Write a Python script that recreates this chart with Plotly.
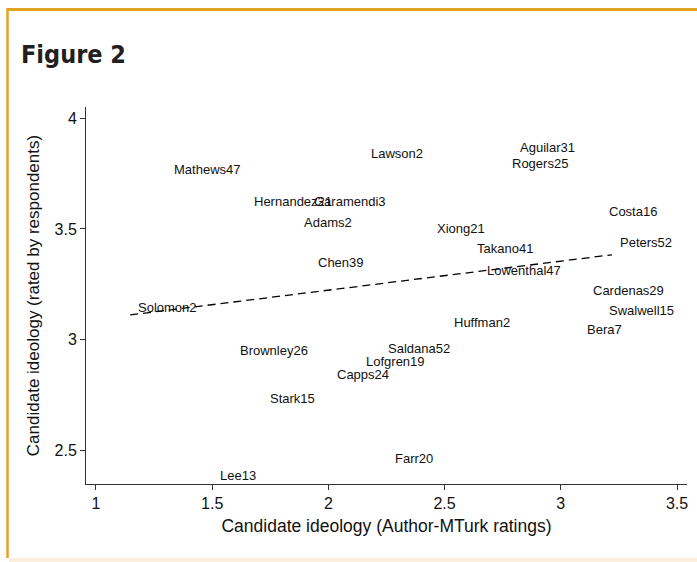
import numpy as np
import plotly.graph_objects as go

names = ["Mathews47", "Lawson2", "Aguilar31", "Rogers25", "Hernandez21", "Garamendi3",
         "Adams2", "Chen39", "Solomon2", "Costa16", "Xiong21", "Takano41", "Peters52",
         "Lowenthal47", "Cardenas29", "Swalwell15", "Huffman2", "Bera7", "Saldana52",
         "Brownley26", "Lofgren19", "Capps24", "Stark15", "Farr20", "Lee13"]
author_mturk = [1.302, 2.147, 2.789, 2.754, 1.647, 1.905,
                1.862, 1.922, 1.147, 3.172, 2.435, 2.603, 3.220,
                2.647, 3.103, 3.172, 2.504, 3.078, 2.220,
                1.586, 2.129, 2.004, 1.716, 2.254, 1.500]
respondents = [3.770, 3.842, 3.869, 3.797, 3.626, 3.626,
               3.527, 3.347, 3.144, 3.577, 3.500, 3.410, 3.437,
               3.311, 3.221, 3.131, 3.077, 3.045, 2.959,
               2.950, 2.901, 2.842, 2.734, 2.464, 2.387]
x_ticks = [1, 1.5, 2, 2.5, 3, 3.5]
y_ticks = [2.5, 3, 3.5, 4]

xs = np.array(author_mturk)
ys = np.array(respondents)
slope, intercept = np.polyfit(xs, ys, 1)
fit_x = np.array([xs.min(), xs.max()])
fit_y = intercept + slope * fit_x

fig = go.Figure()
fig.add_trace(go.Scatter(x=author_mturk, y=respondents, mode="markers",
                         marker=dict(size=6, opacity=0), hoverinfo="text",
                         text=names, showlegend=False))
fig.add_trace(go.Scatter(x=fit_x, y=fit_y, mode="lines",
                         line=dict(color="black", width=1.3, dash="8px,5px"),
                         showlegend=False, hoverinfo="skip"))

for n, xv, yv in zip(names, author_mturk, respondents):
    fig.add_annotation(x=xv, y=yv, text=n, showarrow=False, xanchor="left",
                       yanchor="middle", xshift=6,
                       font=dict(family="Liberation Sans, Arial, sans-serif", size=13, color="#111"))

# plot-area pixel geometry helpers
L, R, T, B = 86, 687, 107, 484
W, H = 697, 562
def px(x):
    return (x - L) / (R - L)
def py(y):
    return (B - y) / (B - T)

orange = "#E5A323"
fig.add_shape(type="line", xref="paper", yref="paper", x0=px(7), x1=px(697),
              y0=py(9.5), y1=py(9.5), line=dict(color=orange, width=3), layer="above")
fig.add_shape(type="line", xref="paper", yref="paper", x0=px(7.5), x1=px(7.5),
              y0=py(8), y1=py(558), line=dict(color=orange, width=2.5), layer="above")
fig.add_shape(type="rect", xref="paper", yref="paper", x0=px(9), x1=px(697),
              y0=py(558), y1=py(562), line=dict(width=0), fillcolor="#FBEEDD", layer="below")

fig.add_annotation(xref="paper", yref="paper", x=px(19), y=py(55), text="<b>Figure 2</b>",
                   showarrow=False, xanchor="left", yanchor="middle",
                   font=dict(family="DejaVu Sans Condensed, Liberation Sans Narrow, sans-serif", size=25, color="#231F20"))

fig.update_layout(
    width=W, height=H,
    margin=dict(l=L, r=W - R, t=T, b=H - B),
    paper_bgcolor="white", plot_bgcolor="white",
    font=dict(family="Liberation Sans, Arial, sans-serif", color="#111"),
    xaxis=dict(range=[0.957, 3.543], tickvals=x_ticks, ticktext=[str(t) for t in x_ticks],
               showgrid=False, zeroline=False, showline=True, linecolor="#333", linewidth=1,
               ticks="outside", ticklen=5, tickcolor="#333", tickfont=dict(size=16),
               title=dict(text="Candidate ideology (Author-MTurk ratings)", font=dict(size=17.5), standoff=8)),
    yaxis=dict(range=[2.35, 4.05], tickvals=y_ticks, ticktext=[str(t) for t in y_ticks],
               showgrid=False, zeroline=False, showline=True, linecolor="#333", linewidth=1,
               ticks="outside", ticklen=5, tickcolor="#333", tickfont=dict(size=16),
               title=dict(text="Candidate ideology (rated by respondents)", font=dict(size=17), standoff=10)),
)

fig.write_html("out.html", config={"displayModeBar": False},
               post_script="document.body.style.margin='0px';document.body.style.overflow='hidden';")
